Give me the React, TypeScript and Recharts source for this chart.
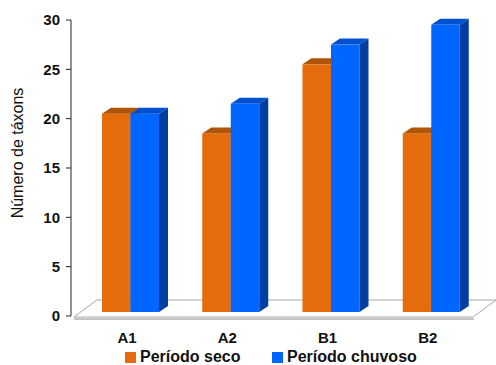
import React from 'react'
import { BarChart, Bar, XAxis, YAxis, Legend, usePlotArea } from 'recharts'

// values
const sites = ['A1', 'A2', 'B1', 'B2']
const seco = [20, 18, 25, 18]
const chuvoso = [20, 21, 27, 29]
const yTicks = [0, 5, 10, 15, 20, 25, 30]
const seriesNames = ['Período seco', 'Período chuvoso']

const data = sites.map((site, i) => ({ site, seco: seco[i], chuvoso: chuvoso[i] }))

const FONT = '"Liberation Sans", Arial, sans-serif'
const DX = 9
const DY = 6

const ORANGE = { front: '#E46C0A', top: '#B05405', side: '#9E4A04' }
const BLUE = { front: '#0066FF', top: '#0050D2', side: '#003FA0' }

// fake-3D box: front face pushed a bit back into the floor, plus top and side faces
const make3D = (c: typeof ORANGE) => (props: any) => {
  const { x, y, width: w, height: h } = props
  if (h == null || w == null) return <g />
  const top = y - 5
  const bot = y + h - 4
  return (
    <g>
      <rect x={x} y={top} width={w} height={bot - top} fill={c.front} />
      <polygon
        points={`${x},${top} ${x + DX},${top - DY} ${x + w + DX},${top - DY} ${x + w},${top}`}
        fill={c.top}
      />
      <polygon
        points={`${x + w},${top} ${x + w + DX},${top - DY} ${x + w + DX},${bot - DY} ${x + w},${bot}`}
        fill={c.side}
      />
    </g>
  )
}

function Floor() {
  const plot = usePlotArea()
  if (!plot) return null
  const fy = plot.y + plot.height + 1
  const by = fy - 17
  const l = plot.x + 3
  const r = plot.x + plot.width - 17
  return (
    <g>
      <line x1={l} y1={fy + 2} x2={r + 1} y2={fy + 2} stroke="#c4c4c4" strokeWidth={2} />
      <polygon
        points={`${l},${fy} ${l + 23},${by} ${r + 23},${by} ${r},${fy}`}
        fill="#fff"
        stroke="#a8a8a8"
        strokeWidth={1}
      />
    </g>
  )
}

const XTick = ({ x, y, payload }: any) => (
  <text x={x - 3} y={y + 19} textAnchor="middle" fontFamily={FONT} fontSize={15} fontWeight="bold" fill="#111">
    {payload.value}
  </text>
)

const LegendBox = () => (
  <div style={{ position: 'relative', height: 25, fontFamily: FONT, fontSize: 16, fontWeight: 'bold', color: '#111' }}>
    {[ORANGE, BLUE].map((c, i) => (
      <div
        key={seriesNames[i]}
        style={{ position: 'absolute', left: i === 0 ? 125 : 272, top: 8, display: 'flex', alignItems: 'center' }}
      >
        <span style={{ width: 11, height: 11, background: c.front, marginRight: 4, display: 'inline-block' }} />
        <span>{seriesNames[i]}</span>
      </div>
    ))}
  </div>
)

export default function App() {
  return (
    <div style={{ position: 'absolute', left: 0, top: 0, background: '#fff' }}>
      <BarChart
        width={496}
        height={365}
        data={data}
        margin={{ top: 20, right: 6, left: 0, bottom: 0 }}
        barGap={0}
        barSize={28.5}
      >
        <Floor />
        <XAxis
          dataKey="site"
          axisLine={false}
          tickLine={false}
          height={24}
          padding={{ left: 9, right: 9 }}
          tick={<XTick />}
          interval={0}
        />
        <YAxis
          domain={[0, 30]}
          ticks={yTicks}
          width={71}
          interval={0}
          axisLine={{ stroke: '#222' }}
          tickLine={{ stroke: '#222' }}
          tickSize={5}
          tickMargin={6}
          tick={{ fontFamily: FONT, fontSize: 15, fontWeight: 'bold', fill: '#111' }}
          label={{
            value: 'Número de táxons',
            angle: -90,
            position: 'insideLeft',
            dx: 12,
            dy: -15,
            style: { fontFamily: FONT, fontSize: 16, fill: '#111', textAnchor: 'middle' },
          }}
        />
        <Legend verticalAlign="bottom" content={<LegendBox />} wrapperStyle={{ left: 0, width: 496 }} />
        <Bar dataKey="seco" name={seriesNames[0]} shape={make3D(ORANGE)} isAnimationActive={false} />
        <Bar dataKey="chuvoso" name={seriesNames[1]} shape={make3D(BLUE)} isAnimationActive={false} />
      </BarChart>
    </div>
  )
}
